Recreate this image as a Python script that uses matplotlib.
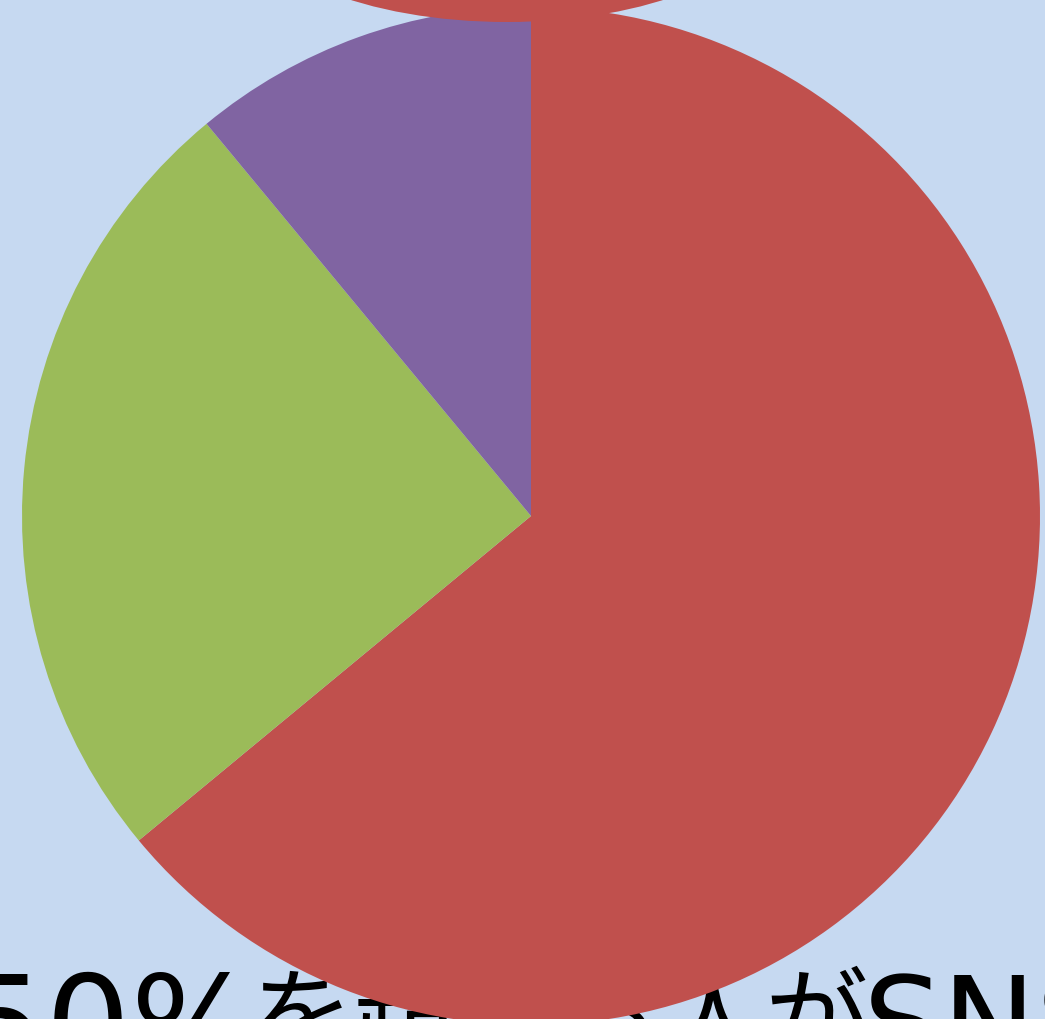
import matplotlib
matplotlib.use("Agg")
import matplotlib.pyplot as plt
from matplotlib.patches import Ellipse

# Data
categories = ["A", "B", "C"]
shares = [64, 25, 11]
colors = ["#C0504D", "#9BBB59", "#8064A2"]
title_parts = ["50%", "を超える人が", "SNS"]

W, H = 1045, 1019
fig = plt.figure(figsize=(W / 100, H / 100), dpi=100)
fig.patch.set_facecolor("#C6D9F1")
ax = fig.add_axes([0, 0, 1, 1])
ax.set_facecolor("#C6D9F1")

ax.pie(shares, colors=colors, startangle=90, counterclock=False,
       center=(531, 503), radius=509, frame=True,
       wedgeprops=dict(linewidth=0, zorder=2))

# red ellipse partially visible at the top
ax.add_patch(Ellipse((507, 1107), 520, 220, facecolor="#C0504D",
                     edgecolor="none", zorder=3))

# large caption, drawn behind the pie
ax.text(-39, -52, title_parts[0], fontsize=96.5, family="DejaVu Sans",
        ha="left", va="baseline", color="black", zorder=1)
ax.text(250, -34, title_parts[1], fontsize=74.2,
        family=["Noto Sans CJK JP", "DejaVu Sans"],
        ha="left", va="baseline", color="black", zorder=1)
ax.text(863, -48, title_parts[2], fontsize=90.7, family="DejaVu Sans",
        ha="left", va="baseline", color="black", zorder=1)

ax.set_xlim(0, W)
ax.set_ylim(0, H)
ax.set_aspect("auto")
ax.axis("off")

fig.savefig("out.png", dpi=100, facecolor=fig.get_facecolor())
